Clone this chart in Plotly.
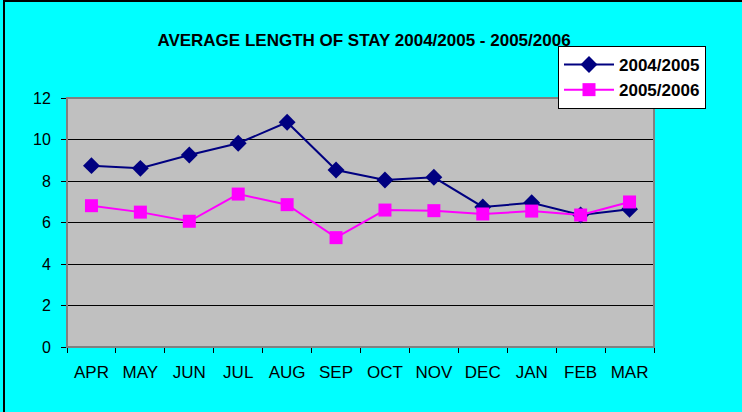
import plotly.graph_objects as go

months = ["APR", "MAY", "JUN", "JUL", "AUG", "SEP", "OCT", "NOV", "DEC", "JAN", "FEB", "MAR"]
s2004 = [8.74, 8.61, 9.25, 9.82, 10.83, 8.53, 8.05, 8.18, 6.75, 6.95, 6.36, 6.64]
s2005 = [6.81, 6.50, 6.06, 7.37, 6.86, 5.27, 6.60, 6.57, 6.41, 6.55, 6.36, 6.99]
y_ticks = [0, 2, 4, 6, 8, 10, 12]

L, R, T, B = 67, 654, 98, 347
W, H = 742, 412

def px(x):
    return (x - L) / (R - L)

def py(y):
    return (B - y) / (B - T)

fig = go.Figure()
fig.add_trace(go.Scatter(x=months, y=s2004, name="2004/2005", mode="lines+markers",
                         line=dict(color="#000080", width=2),
                         marker=dict(symbol="diamond", size=13, color="#000080")))
fig.add_trace(go.Scatter(x=months, y=s2005, name="2005/2006", mode="lines+markers",
                         line=dict(color="#FF00FF", width=2),
                         marker=dict(symbol="square", size=13, color="#FF00FF")))

fig.update_layout(
    width=W, height=H,
    margin=dict(l=L, r=W - R, t=T, b=H - B),
    paper_bgcolor="#00FFFF",
    plot_bgcolor="#C0C0C0",
    font=dict(family="Liberation Sans, Arial", size=16, color="black"),
    title=dict(text="<b>AVERAGE LENGTH OF STAY 2004/2005 - 2005/2006</b>",
               x=364 / W, xanchor="center", y=1 - 40 / H, yanchor="middle",
               font=dict(size=17)),
    showlegend=True,
    legend=dict(x=px(558), y=py(46), xanchor="left", yanchor="top",
                bgcolor="white", bordercolor="black", borderwidth=1,
                font=dict(size=17, family="Liberation Sans, Arial", weight="bold"),
                itemwidth=50, tracegroupgap=2),
    xaxis=dict(type="category", tickson="boundaries", ticks="outside", ticklen=5,
               tickcolor="black", showline=True, linecolor="#404040", linewidth=1,
               showgrid=False, range=[-0.5, 11.5], tickfont=dict(size=17),
               ticklabelstandoff=10),
    yaxis=dict(range=[0, 12], tickvals=y_ticks, ticks="outside", ticklen=5,
               tickcolor="black", showline=True, linecolor="black", linewidth=1,
               gridcolor="black", gridwidth=1, zeroline=False, tickfont=dict(size=16),
               ticklabelstandoff=7),
    shapes=[
        dict(type="rect", xref="paper", yref="paper", x0=0, x1=1, y0=0, y1=1,
             line=dict(color="#808080", width=2), layer="above"),
        dict(type="rect", xref="paper", yref="paper", x0=px(4), x1=px(760), y0=py(1), y1=py(430),
             line=dict(color="black", width=2)),
    ],
)

fig.write_html("out.html", config={"displayModeBar": False},
               post_script="document.body.style.margin='0';")
